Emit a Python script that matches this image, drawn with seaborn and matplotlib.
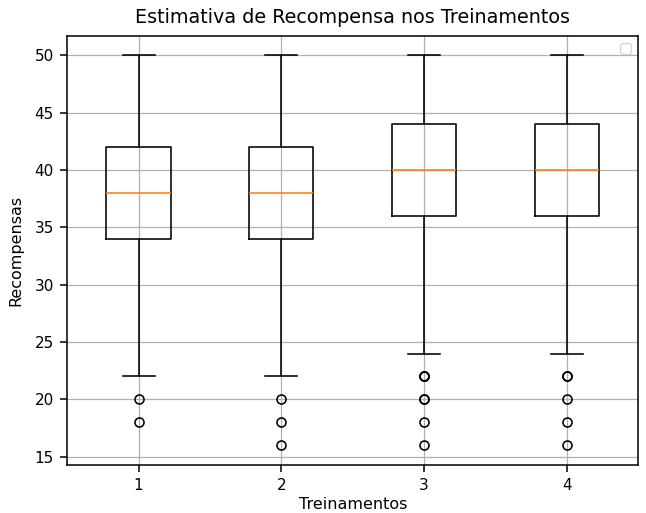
import numpy as np
import pandas as pnd
import matplotlib
matplotlib.use('Agg')
import matplotlib.pyplot as plt
import seaborn as sns

# recompensas (valor -> quantidade de episodios) de cada treinamento
valores_t1 = [18, 20, 22, 26, 30, 34, 36, 38, 40, 42, 46, 50]
contagem_t1 = [1, 1, 2, 3, 5, 20, 15, 20, 14, 20, 5, 3]

valores_t2 = [16, 18, 20, 22, 26, 30, 34, 36, 38, 40, 42, 46, 50]
contagem_t2 = [1, 1, 1, 2, 3, 4, 20, 15, 20, 13, 20, 5, 4]

valores_t3 = [16, 18, 20, 22, 24, 28, 32, 36, 38, 40, 42, 44, 48, 50]
contagem_t3 = [1, 1, 2, 3, 1, 2, 2, 20, 15, 20, 14, 20, 5, 3]

valores_t4 = [16, 18, 20, 22, 24, 28, 32, 36, 38, 40, 42, 44, 48, 50]
contagem_t4 = [1, 1, 1, 2, 1, 3, 3, 20, 15, 20, 14, 20, 5, 3]

treinamentos = ['1', '2', '3', '4']

# montar o dataframe longo
lista_valores = [valores_t1, valores_t2, valores_t3, valores_t4]
lista_contagem = [contagem_t1, contagem_t2, contagem_t3, contagem_t4]
linhas = []
for nome, vals, cont in zip(treinamentos, lista_valores, lista_contagem):
    for r in np.repeat(vals, cont):
        linhas.append({'Treinamento': nome, 'Recompensa': r})
dataframe_recompensas = pnd.DataFrame(linhas)

fig = plt.figure(figsize=(6.46, 5.13), dpi=100)
ax = fig.add_axes([0.104, 0.094, 0.884, 0.836])

sns.boxplot(data=dataframe_recompensas, x='Treinamento', y='Recompensa',
            order=treinamentos, fill=False, color='black', linecolor='black',
            saturation=1, width=0.45, linewidth=1.15, ax=ax,
            medianprops={'color': '#ff7f0e', 'linewidth': 1.15},
            flierprops={'marker': 'o', 'markersize': 6.5, 'markeredgewidth': 1.15,
                        'markerfacecolor': 'none', 'markeredgecolor': 'black'},
            capwidths=0.225)

ax.set_ylim(14.3, 51.7)
ax.set_yticks([15, 20, 25, 30, 35, 40, 45, 50])
ax.tick_params(labelsize=11, length=5, width=1.1, pad=4.5)
ax.grid(True, linewidth=0.9)
ax.set_axisbelow(True)
for s in ax.spines.values():
    s.set_linewidth(1.1)
ax.legend(handles=[])
plt.xlabel('Treinamentos', fontsize=11.5, labelpad=3)
plt.ylabel('Recompensas', fontsize=11.5, labelpad=8)
plt.title('Estimativa de Recompensa nos Treinamentos', fontsize=13.8, pad=9)

plt.savefig('out.png', dpi=100)
